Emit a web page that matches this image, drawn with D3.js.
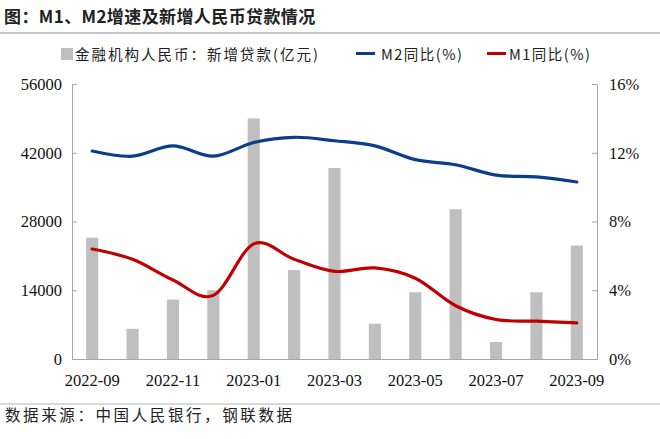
<!DOCTYPE html>
<html><head><meta charset="utf-8">
<script src="https://cdn.jsdelivr.net/npm/d3@7/dist/d3.min.js"></script>
<style>
html,body{margin:0;padding:0;background:#fff;}
svg{display:block;}
svg text.num{font-family:"Liberation Serif",serif !important;}
</style></head>
<body><svg id="c" width="660" height="439"></svg>
<script>
const categories = ["2022-09","2022-10","2022-11","2022-12","2023-01","2023-02","2023-03","2023-04","2023-05","2023-06","2023-07","2023-08","2023-09"];
const newLoans = [24700,6152,12100,14000,49000,18100,38900,7188,13600,30500,3459,13600,23100];
const m2Yoy = [12.1,11.8,12.4,11.8,12.6,12.9,12.7,12.4,11.6,11.3,10.7,10.6,10.3];
const m1Yoy = [6.4,5.8,4.6,3.7,6.7,5.8,5.1,5.3,4.7,3.1,2.3,2.2,2.1];
const leftTicks = [0,14000,28000,42000,56000];
const rightTicks = [0,4,8,12,16];
const xTickLabels = ["2022-09","2022-11","2023-01","2023-03","2023-05","2023-07","2023-09"];

const svg = d3.select("#c");
const cjk = '"Noto Sans CJK SC"';

const L=72, R=597, T=84, B=359;
const x = d3.scaleBand().domain(categories).range([L,R]).paddingInner(0.7).paddingOuter(0.35);
const yL = d3.scaleLinear().domain([0,56000]).range([B,T]);
const yR = d3.scaleLinear().domain([0,16]).range([B,T]);
const cx = c => x(c) + x.bandwidth()/2;

// title
svg.append("text").attr("x",4).attr("y",23).style("font-family",cjk).attr("font-size",17)
  .attr("font-weight",700).attr("letter-spacing",0.4).attr("fill","#222")
  .text("图：M1、M2增速及新增人民币贷款情况");
svg.append("line").attr("x1",0).attr("x2",660).attr("y1",33).attr("y2",33)
  .attr("stroke","#a9b3bf").attr("stroke-width",1.5);

// legend
const lg = svg.append("g").attr("font-size",14.5).attr("fill","#222");
lg.append("rect").attr("x",61).attr("y",48).attr("width",12).attr("height",12).attr("fill","#bfbfbf");
lg.append("text").attr("x",75).attr("y",59.5).style("font-family",cjk).attr("letter-spacing",2).text("金融机构人民币：新增贷款(亿元)");
lg.append("line").attr("x1",356).attr("x2",375).attr("y1",53.5).attr("y2",53.5).attr("stroke","#0b3d8c").attr("stroke-width",3);
lg.append("text").attr("x",381).attr("y",59.5).style("font-family",cjk).attr("letter-spacing",1.5).text("M2同比(%)");
lg.append("line").attr("x1",487).attr("x2",506).attr("y1",53.5).attr("y2",53.5).attr("stroke","#c00000").attr("stroke-width",3);
lg.append("text").attr("x",509).attr("y",59.5).style("font-family",cjk).attr("letter-spacing",1.5).text("M1同比(%)");

// bars
svg.append("g").selectAll("rect").data(categories).join("rect")
  .attr("x",c=>x(c)).attr("width",x.bandwidth())
  .attr("y",(c,i)=>yL(newLoans[i])).attr("height",(c,i)=>B-yL(newLoans[i]))
  .attr("fill","#bfbfbf");

// axes
const axisColor = "#a6a6a6";
const gl = svg.append("g").attr("transform",`translate(${L},0)`)
  .call(d3.axisLeft(yL).tickValues(leftTicks).tickSizeInner(-5).tickSizeOuter(0).tickPadding(10).tickFormat(d3.format("d")));
const gr = svg.append("g").attr("transform",`translate(${R},0)`)
  .call(d3.axisRight(yR).tickValues(rightTicks).tickSizeInner(-5).tickSizeOuter(0).tickPadding(12).tickFormat(d=>d+"%"));
const gb = svg.append("g").attr("transform",`translate(0,${B})`)
  .call(d3.axisBottom(x).tickValues(xTickLabels).tickSize(0).tickPadding(15));
[gl,gr,gb].forEach(g=>{
  g.attr("font-family","Liberation Serif").attr("font-size",16.5);
  g.selectAll("path.domain").attr("stroke",axisColor);
  g.selectAll(".tick line").attr("stroke",axisColor);
  g.selectAll(".tick text").attr("class","num")
    .attr("style",'font-family:"Liberation Serif",serif !important;font-size:16.5px !important;fill:#111;');
});

// lines
const line = (arr, yS) => d3.line().x((c,i)=>cx(c)).y((c,i)=>yS(arr[i])).curve(d3.curveCardinal.tension(0))(categories);
svg.append("path").attr("d",line(m2Yoy,yR)).attr("fill","none").attr("stroke","#0b3d8c").attr("stroke-width",3.2).attr("stroke-linecap","round");
svg.append("path").attr("d",line(m1Yoy,yR)).attr("fill","none").attr("stroke","#c00000").attr("stroke-width",3.2).attr("stroke-linecap","round");

// footer
svg.append("line").attr("x1",0).attr("x2",660).attr("y1",404).attr("y2",404)
  .attr("stroke","#b4b4b4").attr("stroke-width",1.2);
svg.append("text").attr("x",5).attr("y",421).style("font-family",cjk).attr("font-size",15.5)
  .attr("letter-spacing",2.6).attr("fill","#222").text("数据来源：中国人民银行，钢联数据");
</script></body></html>
